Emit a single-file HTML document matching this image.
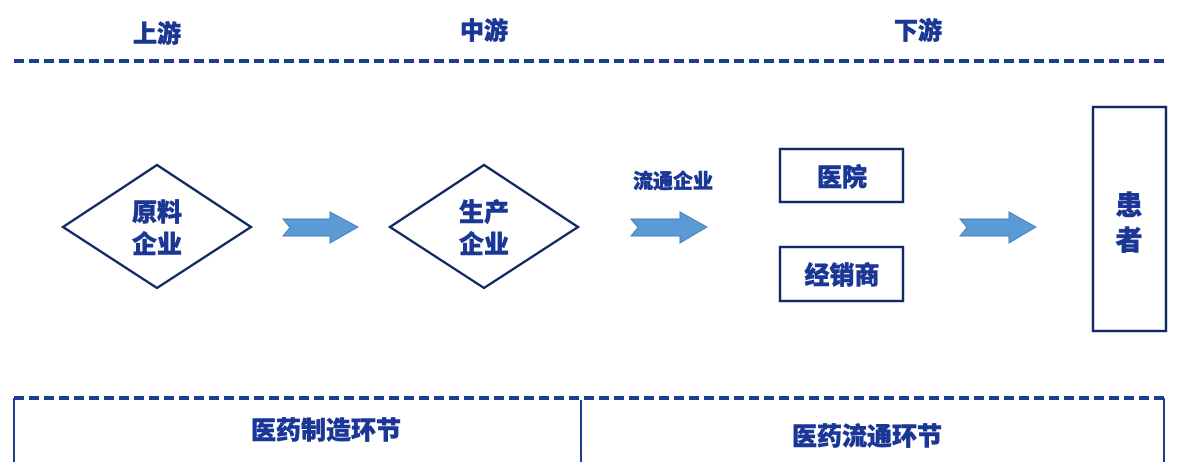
<!DOCTYPE html>
<html><head><meta charset="utf-8"><style>
html,body{margin:0;padding:0;background:#fff;}
svg text{font-family:"Liberation Sans","Noto Sans CJK SC",sans-serif;font-weight:900;fill:#1a3796;text-anchor:middle;stroke:#1a3796;stroke-width:0.5;}
</style></head><body>
<svg width="1182" height="462" viewBox="0 0 1182 462" xmlns="http://www.w3.org/2000/svg">
<g stroke="#1d3d92" stroke-width="4" fill="none">
<line x1="14" y1="61" x2="1166" y2="61" stroke-dasharray="10,5"/>
<line x1="14" y1="398" x2="1166" y2="398" stroke-dasharray="10,5"/>
</g>
<g stroke="#1d3d92" stroke-width="2" fill="none">
<line x1="14" y1="398" x2="14" y2="462"/>
<line x1="581" y1="400" x2="581" y2="462"/>
<line x1="1164" y1="398" x2="1164" y2="462"/>
</g>
<g stroke="#102a66" stroke-width="2.4" fill="#fff">
<polygon points="63,227 157,165 251,227 157,288"/>
<polygon points="390,227 484,165 578,227 484,288"/>
<rect x="780" y="149" width="123" height="53"/>
<rect x="780" y="247" width="123" height="54"/>
<rect x="1093" y="107" width="73" height="224"/>
</g>
<g fill="#5b9bd5" stroke="#4a7fb5" stroke-width="1">
<polygon points="283,219 330,219 330,212 358,227 330,243 330,236 283,236 290,227.5"/>
<polygon points="631,219 680,219 680,212 707,227 680,243 680,236 631,236 638,227.5"/>
<polygon points="960,219 1009,219 1009,212 1036,227 1009,243 1009,236 960,236 967,227.5"/>
</g>
<text x="157" y="42" font-size="24">上游</text>
<text x="484" y="39" font-size="24">中游</text>
<text x="918" y="39" font-size="24">下游</text>
<text x="157" y="221" font-size="25">原料</text>
<text x="157" y="253" font-size="25">企业</text>
<text x="484" y="221" font-size="25">生产</text>
<text x="484" y="253" font-size="25">企业</text>
<text x="673" y="188" font-size="20">流通企业</text>
<text x="842" y="186" font-size="25">医院</text>
<text x="842" y="284" font-size="25">经销商</text>
<text x="1129" y="215" font-size="27">患</text>
<text x="1129" y="250" font-size="27">者</text>
<text x="326" y="439" font-size="25">医药制造环节</text>
<text x="867" y="445" font-size="25">医药流通环节</text>
</svg>
</body></html>
